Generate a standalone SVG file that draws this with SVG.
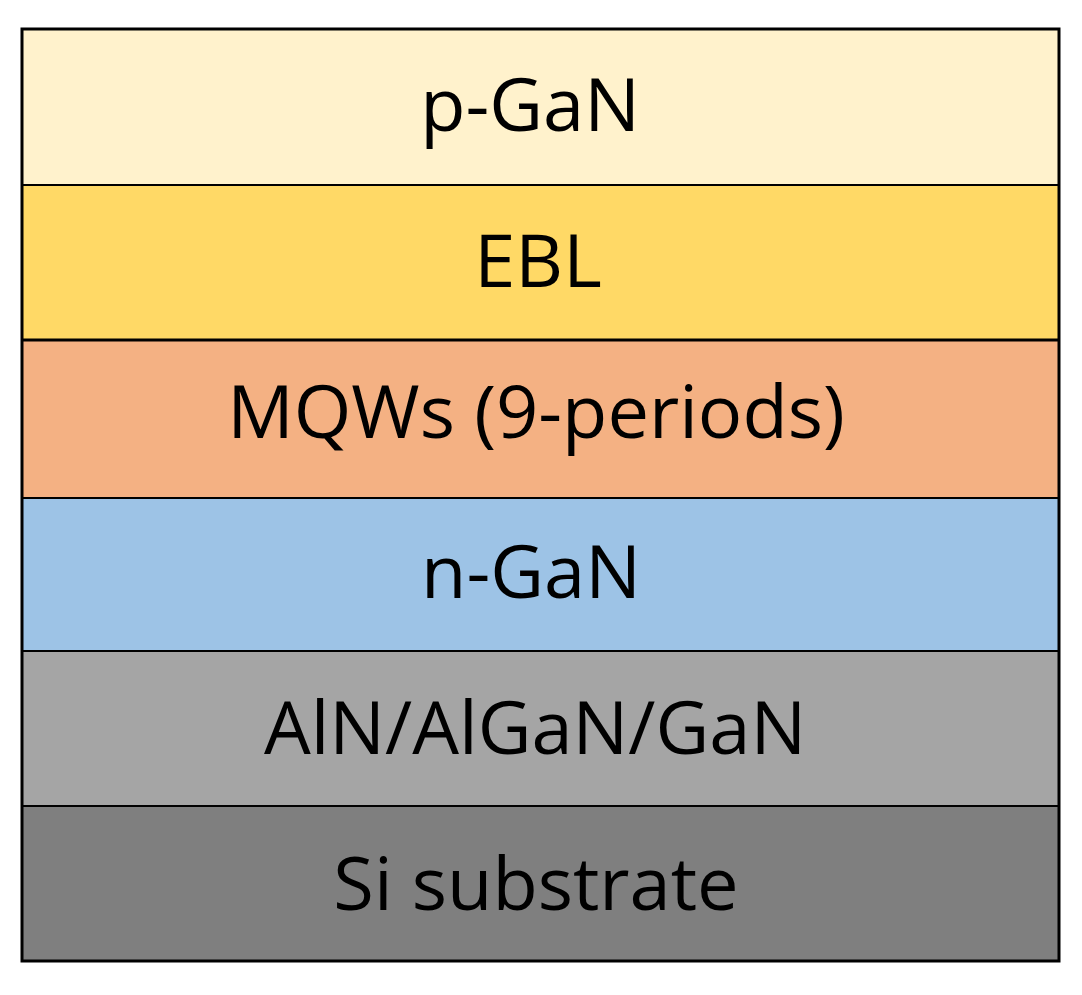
<svg xmlns="http://www.w3.org/2000/svg" width="1082" height="995" viewBox="0 0 1082 995">
<style>
.l{stroke:#000;stroke-width:2}
.t{font-family:"Open Sans",Lato,sans-serif;font-size:74px;fill:#000;text-anchor:middle}
</style>
<rect width="1082" height="995" fill="#fff"/>
<g id="p-GaN"><rect class="l" x="22" y="29" width="1037" height="156" fill="#FFF2CC"/><text class="t" x="530" y="131">p-GaN</text></g>
<g id="EBL"><rect class="l" x="22" y="185" width="1037" height="155" fill="#FFD966"/><text class="t" x="538" y="287">EBL</text></g>
<g id="MQWs"><rect class="l" x="22" y="340" width="1037" height="158" fill="#F4B183"/><text class="t" x="536" y="438">MQWs (9-periods)</text></g>
<g id="n-GaN"><rect class="l" x="22" y="498" width="1037" height="153" fill="#9DC3E6"/><text class="t" x="531" y="598">n-GaN</text></g>
<g id="AlN"><rect class="l" x="22" y="651" width="1037" height="155" fill="#A5A5A5"/><text class="t" x="535" y="754">AlN/AlGaN/GaN</text></g>
<g id="Si"><rect class="l" x="22" y="806" width="1037" height="155" fill="#7F7F7F"/><text class="t" x="536" y="910">Si substrate</text></g>
<line x1="22" y1="340" x2="1059" y2="340" stroke="#000" stroke-width="3"/>
<rect x="22" y="29" width="1037" height="932" fill="none" stroke="#000" stroke-width="3"/>
</svg>
